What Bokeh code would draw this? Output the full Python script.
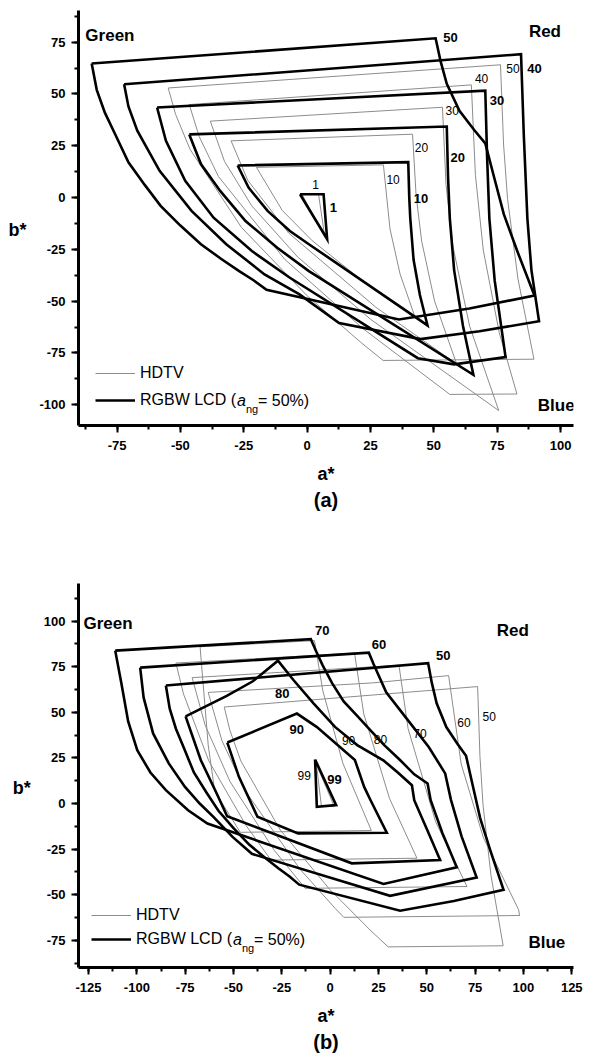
from bokeh.plotting import figure
from bokeh.models import (Range1d, SingleIntervalTicker, Label, Legend, LegendItem, Title,
                          PrintfTickFormatter)
from bokeh.layouts import column
from bokeh.embed import file_html
from bokeh.resources import INLINE

FONT = "Liberation Sans"

# ------------------------------------------------------------------
# Data (a*, b*)
# Panel (a): RGBW LCD (a_ng = 50%) gamut slices, L* = 50, 40, 30, 20, 10, 1
lcd50_astar = [-85.0, 50.7, 52.6, 55.1, 60.1, 66.0, 70.3, 73.8, 77.6, 82.9, 89.7, 64.0, 36.2, -16.0, -21.0, -26.8, -34.0, -41.9, -50.0, -57.8, -64.0, -70.5, -75.5, -79.8, -83.0]
lcd50_bstar = [64.7, 76.9, 66.1, 54.9, 41.9, 32.5, 26.2, 9.7, -8.0, -25.8, -47.3, -53.5, -58.8, -44.5, -40.0, -35.5, -29.5, -22.5, -13.5, -4.0, 6.0, 17.0, 30.0, 41.0, 52.0]
lcd40_astar = [-72.2, 84.4, 85.5, 86.9, 88.5, 91.5, 68.0, 44.7, 12.6, -3.0, -16.8, -31.9, -45.6, -58.2, -67.0, -70.5]
lcd40_bstar = [54.7, 69.2, 30.0, -10.0, -35.0, -59.7, -64.5, -68.3, -60.5, -46.7, -37.1, -22.5, -6.4, 12.9, 32.3, 44.0]
lcd30_astar = [-59.2, 70.3, 71.0, 71.9, 74.0, 78.3, 58.0, 43.7, -6.8, -21.8, -36.9, -48.1, -55.7]
lcd30_bstar = [43.5, 51.6, 20.0, -10.0, -40.0, -77.0, -80.5, -77.5, -38.7, -25.8, -9.7, 8.1, 27.4]
lcd20_astar = [-46.5, 55.1, 55.6, 56.3, 58.0, 61.5, 65.6, 0.7, -11.8, -24.3, -34.3, -41.9]
lcd20_bstar = [30.5, 34.3, 10.0, -10.0, -35.0, -62.0, -85.5, -35.5, -24.2, -11.3, 3.2, 16.2]
lcd10_astar = [-27.4, 39.9, 40.3, 40.7, 42.0, 44.5, 47.5, 0.7, -6.8, -15.6, -23.1]
lcd10_bstar = [15.5, 17.1, 0.0, -10.0, -30.0, -47.0, -61.7, -22.5, -16.1, -6.4, 4.8]
lcd1_astar = [-2.8, 6.5, 7.9]
lcd1_bstar = [1.6, 1.6, -20.0]

# Panel (a): HDTV gamut slices, L* = 50, 40, 30, 20, 10, 1
hdtv50_astar = [-54.8, 76.3, 77.5, 79.1, 83.2, 89.5, 30.0, 21.2, -0.3, -25.9, -46.2, -51.9]
hdtv50_bstar = [52.9, 64.1, 25.9, -0.9, -39.3, -78.0, -78.6, -69.9, -47.0, -14.4, 23.3, 40.2]
hdtv40_astar = [-46.5, 64.8, 66.4, 69.5, 75.8, 82.8, 56.3, 21.8, -8.9, -35.0, -42.6]
hdtv40_bstar = [44.9, 54.4, 10.8, -25.3, -65.2, -94.8, -95.0, -63.0, -29.7, 10.2, 29.5]
hdtv30_astar = [-38.2, 53.4, 54.8, 57.5, 64.1, 75.6, 25.0, -3.7, -21.9, -32.6]
hdtv30_bstar = [36.9, 43.6, 6.3, -23.3, -62.0, -102.8, -58.7, -28.7, -3.9, 17.5]
hdtv20_astar = [-30.0, 41.6, 43.0, 45.2, 50.3, 59.0, 27.1, -7.3, -23.4]
hdtv20_bstar = [27.4, 30.6, 1.0, -21.1, -50.0, -80.3, -52.9, -17.1, 8.3]
hdtv10_astar = [-20.0, 30.1, 32.7, 36.7, 42.7, 24.9, 2.0, -9.8]
hdtv10_bstar = [14.6, 15.8, -15.1, -37.0, -58.1, -43.1, -20.8, -6.2]
hdtv1_astar = [-2.0, 4.5, 7.0]
hdtv1_bstar = [1.5, 1.6, -19.1]

# Panel (b): RGBW LCD slices, L* = 50 (same as above), 60, 70, 80, 90, 99
lcd60_astar = [-98.3, 20.0, 22.5, 29.0, 40.0, 51.0, 59.5, 62.5, 68.0, 75.8, 31.0, -40.5, -50.5, -60.4, -67.5, -75.1, -83.5, -91.6, -96.5]
lcd60_bstar = [74.5, 82.7, 76.3, 61.0, 46.0, 31.0, 16.5, 2.0, -18.0, -40.6, -50.6, -27.6, -18.3, -7.3, 0.0, 9.1, 22.0, 38.4, 58.0]
lcd70_astar = [-111.2, -10.0, -7.5, -4.0, 1.0, 7.0, 14.0, 21.0, 28.0, 36.0, 43.5, 50.4, 52.0, 58.0, 65.5, 27.6, -63.5, -73.5, -85.0, -93.0, -99.8, -104.5, -108.0]
lcd70_bstar = [83.8, 90.1, 84.0, 76.0, 66.0, 56.0, 48.0, 40.0, 32.0, 24.0, 16.0, 11.0, 1.8, -16.0, -35.0, -44.1, -11.0, -3.7, 7.3, 17.0, 29.2, 45.0, 65.8]
lcd80_astar = [-74.8, -53.5, -40.0, -27.0, -19.0, -8.6, 2.5, 14.0, 27.5, 35.0, 42.3, 43.5, 50.0, 56.9, 11.2, -53.3, -58.7, -66.9]
lcd80_bstar = [47.8, 59.0, 67.0, 78.3, 67.7, 54.9, 42.0, 32.0, 23.7, 17.0, 10.0, 1.8, -14.0, -31.0, -32.8, -7.0, 5.5, 23.7]
lcd90_astar = [-53.2, -17.2, -7.0, 12.8, 17.6, 20.9, 29.3, -16.6, -37.6, -47.2]
lcd90_bstar = [33.4, 49.3, 42.0, 23.8, 9.1, 1.8, -16.0, -16.4, -7.3, 14.6]
lcd99_astar = [-7.8, -6.9, 3.1]
lcd99_bstar = [24.1, -1.8, -0.9]

# Panel (b): HDTV slices, L* = 50 (same as above), 60, 70, 80, 90, 99
hdtv60_astar = [-63.1, 21.9, 61.3, 67.8, 79.3, 97.5, 98.0, 7.1, 2.6, -15.6, -43.7, -56.0]
hdtv60_bstar = [60.9, 66.1, 70.1, 21.6, -18.8, -58.2, -61.4, -62.4, -57.5, -36.0, 6.6, 34.5]
hdtv70_astar = [-71.4, 35.6, 40.3, 54.6, 70.8, -12.9, -28.9, -51.8, -64.7]
hdtv70_bstar = [69.0, 75.8, 41.1, -10.1, -45.5, -46.5, -25.7, 12.0, 43.0]
hdtv80_astar = [-79.8, 12.6, 17.4, 30.7, 44.9, -30.6, -43.5, -62.8, -75.9]
hdtv80_bstar = [77.0, 82.4, 49.1, 2.8, -30.0, -31.0, -12.1, 23.4, 60.1]
hdtv90_astar = [-67.3, -8.1, -3.8, 6.6, 21.3, -46.5, -59.7, -63.1]
hdtv90_bstar = [85.9, 89.3, 61.8, 22.0, -14.8, -15.8, 6.7, 32.1]
hdtv99_astar = [-7.1, 2.1, -4.5]
hdtv99_bstar = [21.3, -1.5, -1.6]

# curve labels: (text, a*, b*)
labels_a_lcd = [("50", 53.7, 77.4), ("40", 86.9, 62.1), ("30", 72.1, 46.8), ("20", 56.6, 19.4), ("10", 42.1, -0.3), ("1", 8.9, -4.8)]
labels_a_hdtv = [("50", 78.6, 62.1), ("40", 66.2, 57.3), ("30", 54.6, 41.9), ("20", 42.5, 24.2), ("10", 31.3, 8.5), ("1", 2.0, 6.5)]
labels_b_lcd = [("70", -7.8, 95.0), ("60", 21.5, 87.2), ("50", 54.8, 81.4), ("80", -28.5, 60.4), ("90", -21.0, 40.3), ("99", -1.5, 13.3)]
labels_b_hdtv = [("50", 78.8, 47.6), ("60", 65.8, 44.3), ("70", 43.0, 38.5), ("80", 22.6, 35.3), ("90", 6.1, 34.8), ("99", -16.9, 15.4)]
primaries_a = [("Green", -87.5, 78.2), ("Red", 87.5, 80.3), ("Blue", 91.0, -100.3)]
primaries_b = [("Green", -127.6, 98.4), ("Red", 86.2, 95.1), ("Blue", 102.6, -76.0)]

THIN_COLOR = "#8c8c8c"


def closed(xs, ys):
    return list(xs) + [xs[0]], list(ys) + [ys[0]]


def base_fig(xr, yr, height, top, bottom, title):
    p = figure(width=612, height=height, x_range=Range1d(*xr), y_range=Range1d(*yr),
               output_backend="svg", toolbar_location=None,
               min_border_left=78, min_border_right=39,
               min_border_top=top, min_border_bottom=bottom)
    p.outline_line_color = None
    p.xgrid.visible = False
    p.ygrid.visible = False
    for ax in (p.xaxis[0], p.yaxis[0]):
        ax.ticker = SingleIntervalTicker(interval=25, num_minor_ticks=2)
        ax.formatter = PrintfTickFormatter(format="%d")
        ax.axis_line_width = 3
        ax.axis_line_color = "black"
        ax.major_tick_line_width = 2
        ax.minor_tick_line_width = 2
        ax.major_tick_in = 0
        ax.major_tick_out = 7
        ax.minor_tick_in = 0
        ax.minor_tick_out = 4
        ax.major_label_text_font = FONT
        ax.major_label_text_font_size = "13px"
        ax.major_label_text_font_style = "bold"
        ax.major_label_text_color = "black"
    p.xaxis.major_label_standoff = 8
    p.yaxis.major_label_standoff = 6
    p.xaxis.axis_label = "a*"
    p.xaxis.axis_label_text_font = FONT
    p.xaxis.axis_label_text_font_size = "18px"
    p.xaxis.axis_label_text_font_style = "bold"
    p.xaxis.axis_label_text_color = "black"
    p.xaxis.axis_label_standoff = 11
    # b* label: horizontal, nudged below the frame centre by an empty first line
    p.yaxis.axis_label = "\nb*"
    p.yaxis.axis_label_orientation = "horizontal"
    p.yaxis.axis_label_text_font = FONT
    p.yaxis.axis_label_text_font_size = "18px"
    p.yaxis.axis_label_text_font_style = "bold"
    p.yaxis.axis_label_text_color = "black"
    p.yaxis.axis_label_standoff = 10
    p.add_layout(Title(text=title, align="center", text_font=FONT, text_font_size="20px",
                       text_font_style="bold", text_color="black", standoff=1), "below")
    return p


def add_text(p, items, size, bold):
    for t, x, y in items:
        p.add_layout(Label(x=x, y=y, text=t, text_font=FONT, text_font_size=size,
                           text_font_style="bold" if bold else "normal", text_color="black",
                           text_align="left", text_baseline="middle"))


def add_legend(p, r_thin, r_thick, loc, spacing):
    leg = Legend(items=[LegendItem(label="HDTV", renderers=[r_thin]),
                        LegendItem(label="RGBW LCD (", renderers=[r_thick])],
                 location=loc, orientation="vertical", glyph_width=40, glyph_height=20,
                 label_height=20, label_standoff=5, spacing=spacing, padding=0, margin=0,
                 border_line_color=None, background_fill_alpha=0,
                 label_text_font=FONT, label_text_font_size="16px", label_text_color="black")
    p.add_layout(leg)
    x0 = loc[0] + 45
    ymid = loc[1] + 10
    p.add_layout(Label(x=x0 + 96.5, y=ymid, x_units="screen", y_units="screen", text="a",
                       text_font=FONT, text_font_size="16px", text_font_style="italic",
                       text_baseline="middle", text_color="black"))
    p.add_layout(Label(x=x0 + 105.5, y=ymid - 8, x_units="screen", y_units="screen", text="ng",
                       text_font=FONT, text_font_size="11px", text_baseline="middle",
                       text_color="black"))
    p.add_layout(Label(x=x0 + 117.5, y=ymid, x_units="screen", y_units="screen", text="= 50%)",
                       text_font=FONT, text_font_size="16px", text_baseline="middle",
                       text_color="black"))


def draw(p, hdtv, lcd):
    r_thin = r_thick = None
    for xs, ys in hdtv:
        cx, cy = closed(xs, ys)
        r = p.line(cx, cy, line_color=THIN_COLOR, line_width=1, line_join="miter")
        r_thin = r_thin or r
    for xs, ys in lcd:
        cx, cy = closed(xs, ys)
        r = p.line(cx, cy, line_color="black", line_width=2.6, line_join="miter")
        r_thick = r_thick or r
    return r_thin, r_thick


# ---------------- panel (a) ----------------
pa = base_fig((-90.2, 105.1), (-110.0, 90.3), 520, 10, 95, "(a)")
ra_thin, ra_thick = draw(
    pa,
    [(hdtv50_astar, hdtv50_bstar), (hdtv40_astar, hdtv40_bstar), (hdtv30_astar, hdtv30_bstar),
     (hdtv20_astar, hdtv20_bstar), (hdtv10_astar, hdtv10_bstar), (hdtv1_astar, hdtv1_bstar)],
    [(lcd50_astar, lcd50_bstar), (lcd40_astar, lcd40_bstar), (lcd30_astar, lcd30_bstar),
     (lcd20_astar, lcd20_bstar), (lcd10_astar, lcd10_bstar), (lcd1_astar, lcd1_bstar)])
add_text(pa, labels_a_lcd, "13px", True)
add_text(pa, labels_a_hdtv, "12px", False)
add_text(pa, primaries_a, "17px", True)
add_legend(pa, ra_thin, ra_thick, (17, 15), 7)

# ---------------- panel (b) ----------------
pb = base_fig((-130.2, 125.9), (-89.9, 120.6), 537, 63, 90, "(b)")
rb_thin, rb_thick = draw(
    pb,
    [(hdtv50_astar, hdtv50_bstar), (hdtv60_astar, hdtv60_bstar), (hdtv70_astar, hdtv70_bstar),
     (hdtv80_astar, hdtv80_bstar), (hdtv90_astar, hdtv90_bstar), (hdtv99_astar, hdtv99_bstar)],
    [(lcd50_astar, lcd50_bstar), (lcd60_astar, lcd60_bstar), (lcd70_astar, lcd70_bstar),
     (lcd80_astar, lcd80_bstar), (lcd90_astar, lcd90_bstar), (lcd99_astar, lcd99_bstar)])
add_text(pb, labels_b_lcd, "13px", True)
add_text(pb, labels_b_hdtv, "12px", False)
add_text(pb, primaries_b, "17px", True)
add_legend(pb, rb_thin, rb_thick, (13, 18), 4)

layout = column(pa, pb, spacing=0)
open("out.html", "w").write(file_html(layout, INLINE))
